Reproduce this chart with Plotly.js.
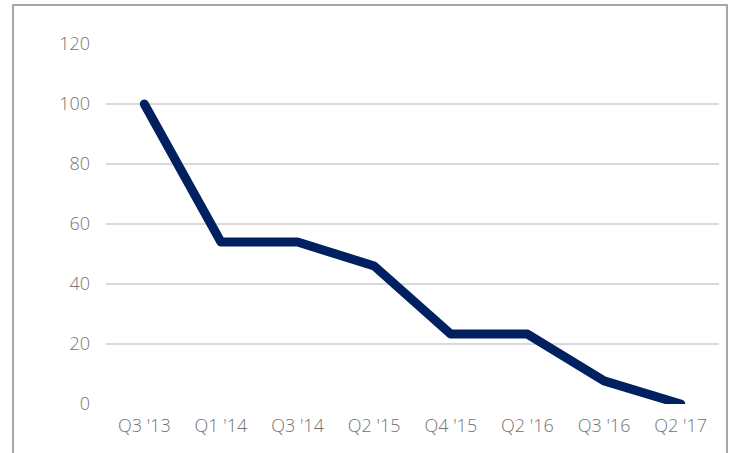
<!DOCTYPE html>
<html>
<head>
<meta charset="utf-8">
<script src="https://cdn.plot.ly/plotly-3.0.1.min.js"></script>
<style>
html,body{margin:0;padding:0;background:#fff;}
#chart{width:733px;height:453px;}
.js-line{stroke-linecap:round !important;stroke-linejoin:round !important;}
</style>
</head>
<body>
<div id="chart"></div>
<script>
const categories = ["Q3 '13","Q1 '14","Q3 '14","Q2 '15","Q4 '15","Q2 '16","Q3 '16","Q2 '17"];
const values = [100, 54, 54, 46, 23.3, 23.3, 7.7, 0];
const yTicks = [0, 20, 40, 60, 80, 100, 120];

const L = 106, R = 14, T = 44, B = 49;
const W = 733, H = 453;
const pw = W - L - R, ph = H - T - B;
const px = x => (x - L) / pw;
const py = y => (H - B - y) / ph;

const FONT = {family: '"Open Sans", sans-serif', size: 18, color: '#737373', weight: 300};

const trace = {
  x: categories,
  y: values,
  type: 'scatter',
  mode: 'lines',
  line: {color: '#002060', width: 9},
  hoverinfo: 'skip'
};

const layout = {
  width: W, height: H,
  margin: {l: L, r: R, t: T, b: B, pad: 0},
  paper_bgcolor: '#fff',
  plot_bgcolor: '#fff',
  showlegend: false,
  font: FONT,
  xaxis: {
    type: 'category',
    range: [-0.5, categories.length - 0.5],
    showgrid: false,
    zeroline: false,
    showline: false,
    ticks: '',
    ticklabelstandoff: 9,
    tickfont: FONT,
    fixedrange: true
  },
  yaxis: {
    range: [0, 120],
    tickvals: yTicks,
    ticktext: yTicks.map(String),
    showgrid: true,
    gridcolor: '#d9d9d9',
    gridwidth: 2,
    zeroline: false,
    showline: false,
    ticks: '',
    ticklabelstandoff: 15,
    tickfont: FONT,
    fixedrange: true
  },
  shapes: [{
    type: 'path',
    xref: 'paper', yref: 'paper',
    path: `M ${px(13)} ${py(H + 2)} L ${px(13)} ${py(5)} L ${px(727)} ${py(5)} L ${px(727)} ${py(H + 2)}`,
    line: {color: '#a6a6a6', width: 2},
    layer: 'below'
  }]
};

Plotly.newPlot('chart', [trace], layout, {staticPlot: true, displayModeBar: false});
</script>
</body>
</html>
